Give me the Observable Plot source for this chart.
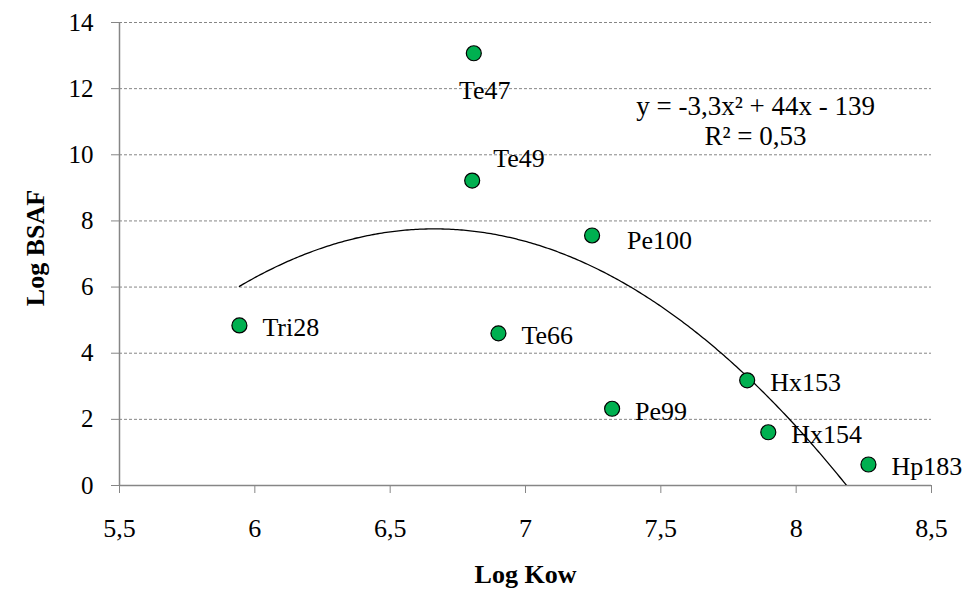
<!DOCTYPE html>
<html>
<head>
<meta charset="utf-8">
<script src="https://cdn.jsdelivr.net/npm/d3@7"></script>
<script src="https://cdn.jsdelivr.net/npm/@observablehq/plot@0.6"></script>
<style>
  html, body { margin: 0; padding: 0; background: #fff; }
  svg { overflow: visible; }
  svg, svg text { font-family: "Liberation Serif", "Times New Roman", serif !important; }
</style>
</head>
<body>
<div id="chart"></div>
<script>
const congeners = ["Tri28", "Te47", "Te49", "Pe100", "Te66", "Pe99", "Hx153", "Hx154", "Hp183"];
const logKow  = [5.943, 6.809, 6.803, 7.246, 6.90, 7.320, 7.819, 7.897, 8.267];
const logBSAF = [4.84, 13.07, 9.22, 7.56, 4.60, 2.32, 3.18, 1.61, 0.635];
const xTicks = [5.5, 6, 6.5, 7, 7.5, 8, 8.5];
const yTicks = [0, 2, 4, 6, 8, 10, 12, 14];
const equationText = "y = -3,3x² + 44x - 139\nR² = 0,53";

const pts = congeners.map((name, i) => ({name, x: logKow[i], y: logBSAF[i]}));

// Quadratic least-squares trendline (as Excel computes it)
function quadFit(xs, ys) {
  const n = xs.length;
  let S = [0,0,0,0,0], T = [0,0,0];
  for (let i = 0; i < n; i++) {
    let p = 1;
    for (let k = 0; k < 5; k++) { S[k] += p; if (k < 3) T[k] += p * ys[i]; p *= xs[i]; }
  }
  const A = [[S[0], S[1], S[2], T[0]], [S[1], S[2], S[3], T[1]], [S[2], S[3], S[4], T[2]]];
  for (let c = 0; c < 3; c++) {
    for (let r = c + 1; r < 3; r++) {
      const f = A[r][c] / A[c][c];
      for (let k = c; k < 4; k++) A[r][k] -= f * A[c][k];
    }
  }
  const b = [0,0,0];
  for (let r = 2; r >= 0; r--) {
    let s = A[r][3];
    for (let k = r + 1; k < 3; k++) s -= A[r][k] * b[k];
    b[r] = s / A[r][r];
  }
  return b; // c0 + c1 x + c2 x^2
}
const coef = quadFit(logKow, logBSAF);
const xMin = d3.min(logKow), xMax = d3.max(logKow);
const curve = d3.range(0, 301).map(i => {
  const x = xMin + (xMax - xMin) * i / 300;
  return {x, y: coef[0] + coef[1] * x + coef[2] * x * x};
});

const fmt = d => String(d).replace(".", ",");
const font = "Liberation Serif";
const gray = "#868686";

const special = ["Te47", "Te49", "Pe100"];
const rightLabels = pts.filter(d => !special.includes(d.name));
const only = name => pts.filter(d => d.name === name);

const chart = Plot.plot({
  width: 970,
  height: 590,
  marginLeft: 119,
  marginRight: 39,
  marginTop: 22,
  marginBottom: 105,
  style: {background: "#fff", color: "#000"},
  x: {domain: [5.5, 8.5]},
  y: {domain: [0, 14]},
  marks: [
    Plot.gridY(yTicks.filter(d => d > 0), {stroke: gray, strokeOpacity: 1, strokeDasharray: "3,2", strokeWidth: 1}),
    Plot.ruleX([5.5], {stroke: gray, strokeWidth: 1.5}),
    Plot.ruleY([0], {stroke: gray, strokeWidth: 1.5}),
    Plot.axisY({ticks: yTicks, tickSize: 8, tickPadding: 18, tickFormat: d => String(d), fontSize: 25, fontFamily: font, stroke: gray, label: null, color: "#000"}),
    Plot.axisX({ticks: xTicks, tickSize: 8, tickPadding: 25, tickFormat: fmt, fontSize: 26, fontFamily: font, stroke: gray, label: null}),
    Plot.line(curve, {x: "x", y: "y", stroke: "#000", strokeWidth: 1.3, clip: true}),
    Plot.dot(pts, {x: "x", y: "y", r: 7.5, fill: "#00b050", stroke: "#000", strokeWidth: 1.2}),
    Plot.text(rightLabels, {x: "x", y: "y", text: "name", textAnchor: "start", dx: 23, dy: 2.5, fontSize: 26, fontFamily: font, fill: "#000"}),
    Plot.text(only("Pe100"), {x: "x", y: "y", text: "name", textAnchor: "start", dx: 35, dy: 5, fontSize: 26, fontFamily: font, fill: "#000"}),
    Plot.text(only("Te47"), {x: "x", y: "y", text: "name", textAnchor: "middle", dx: 11, dy: 37, fontSize: 26, fontFamily: font, fill: "#000"}),
    Plot.text(only("Te49"), {x: "x", y: "y", text: "name", textAnchor: "start", dx: 21, dy: -21.5, fontSize: 26, fontFamily: font, fill: "#000"}),
    Plot.text([equationText], {x: 7.85, y: 11.05, text: d => d, textAnchor: "middle", fontSize: 27, fontFamily: font, lineHeight: 1.11, fill: "#000"}),
    Plot.text(["Log BSAF"], {frameAnchor: "left", textAnchor: "middle", lineAnchor: "middle", dx: -84, dy: -6, rotate: -90, fontSize: 26, fontFamily: font, fontWeight: "bold", fill: "#000"}),
    Plot.text(["Log Kow"], {frameAnchor: "bottom", textAnchor: "middle", lineAnchor: "middle", dy: 89, fontSize: 26, fontFamily: font, fontWeight: "bold", fill: "#000"})
  ]
});
document.getElementById("chart").appendChild(chart);
</script>
</body>
</html>
